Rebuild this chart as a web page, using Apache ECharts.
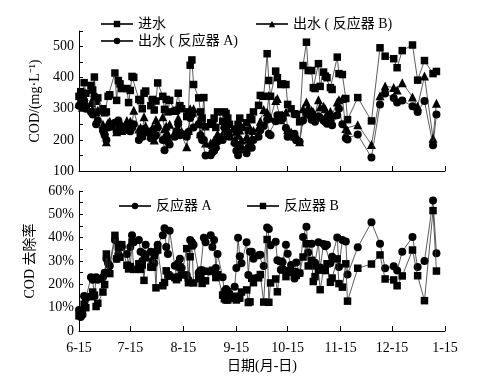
<!DOCTYPE html>
<html><head><meta charset="utf-8">
<script src="https://cdn.jsdelivr.net/npm/echarts@6/dist/echarts.min.js"></script>
<style>html,body{margin:0;padding:0;background:#fff}#c{width:498px;height:379px}</style>
</head><body><div id="c"></div>
<script>
// sampling day (days after 6-15)
const days = [0,1,2,3,4, 7,8,9,10,11, 14,15,16,17,18, 21,22,23,24,25, 28,29,30,31,32, 35,36,37,38,39, 42,43,44,45,46, 49,50,51,52,53, 56,57,58,59,60, 63,64,65,66,67, 70,71,72,73,74, 77,78,79,80,81, 84,85,86,87,88, 91,92,93,94,95, 98,99,100,101,102,
105,106,108,110,111,112,115,116,118,119,121,122,124,126,127,129,131,133,134,136,137,138,140,141,143,144,145,147,148,151,152,154,156,157,
163,171,176,179,184,186,189,195,198,202,207,209];
// 进水 COD (mg/L)
const inflow = [340,355,330,384,350, 375,360,402,324,335, 300,287,290,340,345, 415,327,391,380,365, 365,320,359,404,401, 330,326,300,350,357, 310,330,296,325,383, 340,298,330,290,327, 292,295,350,310,300, 275,290,440,457,378, 335,290,270,336,242, 255,250,270,240,290, 260,290,285,270,250, 235,225,250,270,240, 255,230,272,265,290,
311,343,340,477,391,340,421,400,378,380,378,314,300,284,282,258,439,514,423,423,368,365,445,372,418,405,400,368,362,466,413,410,333,265,
336,261,496,469,461,432,487,505,392,455,413,420];
// 出水 (反应器 A)
const effA = [310,333,306,325,300, 290,282,340,250,262, 230,215,200,240,250, 255,225,262,240,235, 245,230,228,240,250, 200,215,210,235,225, 205,230,210,215,240, 200,167,210,195,185, 210,228,250,215,220, 210,225,270,282,240, 250,215,200,200,150, 151,160,165,175,195, 200,240,235,225,210, 190,165,151,183,170, 157,175,180,175,200,
210,231,245,265,220,215,260,279,279,268,238,210,215,220,199,194,262,284,281,265,265,258,276,271,262,258,252,261,247,279,300,250,205,201,
217,143,314,349,335,320,327,308,290,325,183,282];
// 出水 (反应器 B)
const effB = [318,330,305,340,315, 320,300,340,290,295, 250,230,194,255,260, 245,226,250,260,230, 262,235,260,250,295, 235,240,215,274,245, 225,240,200,265,250, 274,236,245,220,250, 225,230,270,225,228, 178,230,300,290,300, 260,220,215,250,190, 190,185,200,185,220, 220,250,247,234,215, 200,195,215,232,200, 210,202,238,205,230,
240,260,298,290,343,270,327,333,265,280,290,233,225,212,215,194,300,322,305,295,290,280,329,306,308,300,285,291,280,322,329,333,237,231,
249,185,342,373,368,360,384,338,308,405,205,318];
// COD 去除率 (%) 反应器 A
const remA = [9,6,7,15,14, 23,22,15,23,22, 23,25,31,29,28, 39,31,33,37,36, 33,28,36,41,38, 39,34,30,33,37, 34,30,29,34,37, 41,44,36,33,43, 28,23,29,31,27, 24,22,39,38,37, 25,26,26,40,38, 41,36,39,27,33, 23,17,18,17,16, 19,27,40,32,29, 38,24,34,34,31,
32.5,32.7,27.9,44.4,43.7,36.8,38.2,30.3,26.2,29.5,37,33.1,28.3,22.5,29.4,24.8,40.3,44.7,33.6,37.4,28,29.3,38,27.2,37.3,36.3,37,29,31.8,40.1,27.4,39,38.4,24.2,
35.9,46.6,37.4,26.9,27.7,25.9,34,40.3,27.4,30,55.9,33.3];
// COD 去除率 (%) 反应器 B
const remB = [6.5,7,7.6,11.5,10, 14.7,16.7,15.4,10.5,11.9, 16.7,19.9,33,25,24.6, 41,30.9,36,31.6,37, 28.2,26.6,27.6,38.1,26.4, 28.8,26.4,28.3,21.7,31.4, 27.4,27.3,32.4,18.5,34.7, 19.4,20.8,25.8,24.1,23.5, 22.9,22,22.9,27.4,24, 35.3,20.7,31.8,36.5,20.6, 22.4,24.1,20.4,25.6,21.5, 25.5,26,25.9,22.9,24.1, 15.4,13.8,13.3,13.3,14, 14.9,13.3,14,14.1,16.7, 17.6,12.2,12.5,22.6,20.7,
22.8,24.2,12.4,39.2,12.3,20.6,22.3,16.8,29.9,26.3,23.3,25.8,25,25.4,23.8,24.8,31.7,37.4,27.9,30.3,21.2,23.3,26.1,17.7,26.3,25.9,28.8,20.9,22.7,30.9,20.3,18.8,28.8,12.8,
26.9,28.7,32.6,22.3,21.9,19.4,23.6,34.7,23.7,13,51.6,25.7];
const tickDays = [0,30,61,92,122,153,183,214];
const tickLabels = ['6-15','7-15','8-15','9-15','10-15','11-15','12-15','1-15'];

const FONT = "'Liberation Serif','Noto Sans CJK SC',serif";
const pair = arr => days.map((d,i)=>[d, arr[i]]);
const chart = echarts.init(document.getElementById('c'), null, {renderer:'canvas'});

const axisBase = {
  axisLine:{show:true,onZero:false,lineStyle:{color:'#000',width:1}},
  splitLine:{show:false}
};
function xAx(gi, showLabel){
  return Object.assign({}, axisBase, {
    type:'value', gridIndex:gi, min:0, max:214,
    axisTick:{show:true, inside:true, length:5, customValues:tickDays, lineStyle:{color:'#000'}},
    axisLabel: showLabel ? {show:true, customValues:tickDays, color:'#000', fontFamily:FONT, fontSize:14, margin:10,
      formatter: v => tickLabels[tickDays.indexOf(v)] || ''} : {show:false},
    name: showLabel ? '日期(月-日)' : '', nameLocation:'middle', nameGap:28,
    nameTextStyle:{color:'#000', fontFamily:FONT, fontSize:14}
  });
}
function series(name, arr, sym, size, xi, z){
  return {name, type:'line', xAxisIndex:xi, yAxisIndex:xi, data:pair(arr), symbol:sym, symbolSize:size,
    showAllSymbol:true, animation:false, z:z,
    itemStyle:{color:'#000'}, lineStyle:{color:'#333', width:0.8}};
}
const legBase = {itemWidth:32, itemHeight:8, itemGap:5, selectedMode:false,
  textStyle:{color:'#000', fontFamily:FONT, fontSize:14}};

chart.setOption({
  backgroundColor:'#fff',
  animation:false,
  grid:[
    {left:79, top:31, width:366, height:140},
    {left:79, top:191, width:366, height:140}
  ],
  xAxis:[xAx(0,false), xAx(1,true)],
  yAxis:[
    Object.assign({}, axisBase, {type:'value', gridIndex:0, min:100, max:550, interval:50,
      axisTick:{show:true, inside:true, length:4, lineStyle:{color:'#000'}},
      axisLabel:{color:'#000', fontFamily:FONT, fontSize:14, margin:5, formatter: v => (v%100===0 ? String(v) : '')},
      name:'COD/(mg·L⁻¹)', nameLocation:'middle', nameGap:37,
      nameTextStyle:{color:'#000', fontFamily:FONT, fontSize:14}}),
    Object.assign({}, axisBase, {type:'value', gridIndex:1, min:0, max:60, interval:5,
      axisTick:{show:true, inside:true, length:4, lineStyle:{color:'#000'}},
      axisLabel:{color:'#000', fontFamily:FONT, fontSize:14, margin:5, formatter: v => (v%10===0 ? (v===0?'0':v+'%') : '')},
      name:'COD 去除率', nameLocation:'middle', nameGap:37,
      nameTextStyle:{color:'#000', fontFamily:FONT, fontSize:14}})
  ],
  legend:[
    Object.assign({}, legBase, {data:['进水'], left:95, top:12}),
    Object.assign({}, legBase, {data:['出水 ( 反应器 A)'], left:95, top:29}),
    Object.assign({}, legBase, {data:['出水 ( 反应器 B)'], left:250, top:12}),
    Object.assign({}, legBase, {data:['反应器 A'], left:113, top:194}),
    Object.assign({}, legBase, {data:['反应器 B'], left:241, top:194})
  ],
  series:[
    series('进水', inflow, 'rect', 7.5, 0, 2),
    series('出水 ( 反应器 B)', effB, 'triangle', 9, 0, 3),
    series('出水 ( 反应器 A)', effA, 'circle', 8, 0, 4),
    series('反应器 A', remA, 'circle', 8, 1, 3),
    series('反应器 B', remB, 'rect', 7.5, 1, 4)
  ]
});
</script></body></html>
